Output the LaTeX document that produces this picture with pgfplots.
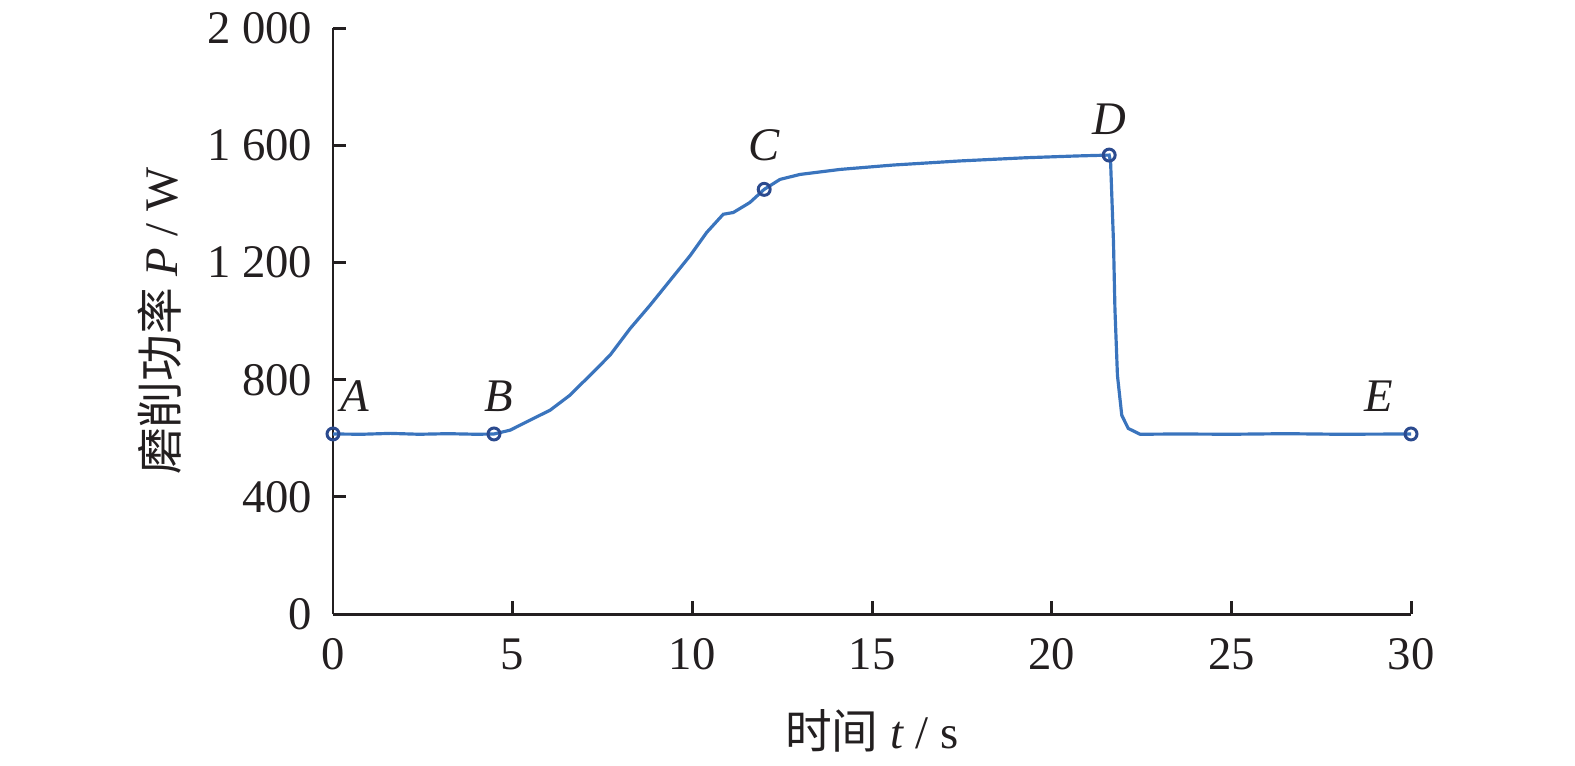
\documentclass[border=0pt]{standalone}
\usepackage{pgfplots}
\pgfplotsset{compat=1.18}
\usepackage{fontspec}
\setmainfont{Liberation Serif}
\newfontfamily\cjk{Noto Sans CJK SC}
\definecolor{curve}{HTML}{3A74BD}
\definecolor{ring}{HTML}{2B4A8E}
\definecolor{ink}{HTML}{231F20}
\begin{document}
\begin{tikzpicture}
\begin{axis}[
	scale only axis,
	width=288.5pt,height=156.8pt,
	xmin=0,xmax=30,ymin=0,ymax=2000,
	axis lines=left,
	axis line style={-,ink,line width=0.8pt},
	every tick/.style={ink,line width=0.8pt},
	tick align=inside,
	major tick length=3.4pt,
	xtick={0,5,...,30},
	ytick={0,400,...,2000},
	/pgf/number format/assume math mode=true,
	/pgf/number format/1000 sep={\ },
	tick label style={font=\fontsize{12.5}{15}\selectfont,ink},
	xticklabel style={yshift=-3pt},
	yticklabel style={xshift=-2pt},
	label style={font=\fontsize{12.5}{15}\selectfont,ink},
	xlabel={{\cjk 时间} \textit{t} / s},
	ylabel={{\cjk 磨削功率} \textit{P} / W},
	xlabel style={at={(axis description cs:0.5,-0.2)},anchor=center},
	ylabel style={at={(axis description cs:-0.1605,0.5)},anchor=center,rotate=0},
	clip=false,
]
% 功率曲线
\addplot[curve,line width=0.85pt] coordinates {
	(0,615) (0.8,614) (1.6,617) (2.4,614) (3.2,616) (4.0,614) (4.48,615)
	(4.93,628) (5.48,662) (6.04,696) (6.59,747) (7.15,815) (7.71,884)
	(8.27,975) (8.82,1054) (9.38,1139) (9.94,1224) (10.40,1303) (10.86,1365)
	(11.14,1371) (11.60,1405) (12.0,1450) (12.44,1484) (13.0,1501)
	(14.11,1518) (15.59,1533) (17.45,1547) (19.3,1558) (20.7,1564) (21.6,1567)
	(21.64,1541) (21.72,1269) (21.76,1042) (21.83,815) (21.95,679)
	(22.13,634) (22.46,614) (23.5,615) (25,614) (26.5,616) (28,614) (30,615)
};
\addplot[only marks,ring,mark=o,mark size=1.6pt,mark options={line width=0.8pt,fill=white}] coordinates {
	(0,615) (4.48,615) (12.0,1450) (21.6,1567) (30,615)
};
\node[font=\fontsize{12.5}{15}\selectfont\itshape,ink] at (axis cs:0.6,745) {A};
\node[font=\fontsize{12.5}{15}\selectfont\itshape,ink] at (axis cs:4.6,745) {B};
\node[font=\fontsize{12.5}{15}\selectfont\itshape,ink] at (axis cs:12.0,1600) {C};
\node[font=\fontsize{12.5}{15}\selectfont\itshape,ink] at (axis cs:21.6,1690) {D};
\node[font=\fontsize{12.5}{15}\selectfont\itshape,ink] at (axis cs:29.1,745) {E};
\path (rel axis cs:-0.3089,-0.2568) rectangle (rel axis cs:1.1521,1.0425);
\end{axis}
\end{tikzpicture}
\end{document}
